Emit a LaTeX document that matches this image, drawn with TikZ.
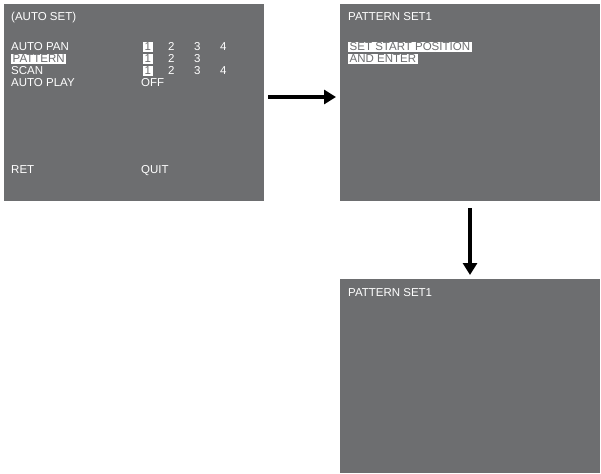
\documentclass[tikz,border=0pt]{standalone}
\usepackage{fontspec}
\setmainfont{Liberation Sans}
\usetikzlibrary{positioning,arrows.meta}
\definecolor{osdgray}{RGB}{109,110,112}
\tikzset{
  screen/.style={fill=osdgray,draw=none},
  osd/.style={anchor=base west,text=white,inner sep=0pt,font=\fontsize{11.5}{12}\selectfont},
  sel/.style={osd,fill=white,text=osdgray,inner xsep=1.5pt,inner ysep=1pt},
  bigarrow/.style={line width=4pt,-{Triangle[length=12pt,width=14pt]}}
}
\begin{document}
\begin{tikzpicture}[x=1pt,y=-1pt]
  \useasboundingbox (0,0) rectangle (601,473);
  % screens
  \fill[screen] (4,4) rectangle (264,201);
  \fill[screen] (340,4) rectangle (600,201);
  \fill[screen] (340,279) rectangle (600,473);
  % auto set menu
  \node[osd] (title) at (11,21) {(AUTO SET)};
  \node[osd] (pan) at (11,51) {AUTO PAN};
  \node[sel] (pat) at (11,63) {PATTERN};
  \node[osd] (scan) at (11,75) {SCAN};
  \node[osd] (play) at (11,87) {AUTO PLAY};
  \foreach \y in {51,63,75}
    \node[sel] at (143,\y) {1};
  \foreach \y/\i/\x in {51/2/168,51/3/194,51/4/220,63/2/168,63/3/194,75/2/168,75/3/194,75/4/220}
    \node[osd] at (\x,\y) {\i};
  \node[osd] (off) at (141,87) {OFF};
  \node[osd] (ret) at (11,173) {RET};
  \node[osd] (quit) at (141,173) {QUIT};
  % pattern set screens
  \node[osd] (ps1) at (348,21) {PATTERN SET1};
  \node[sel] (start) at (348,51) {SET START POSITION};
  \node[sel] (enter) at (348,63) {AND ENTER};
  \node[osd] (ps2) at (348,296) {PATTERN SET1};
  % arrows
  \coordinate (a1) at (268,97);
  \coordinate (a2) at (336,97);
  \coordinate (b1) at (470,208);
  \coordinate (b2) at (470,275);
  \draw[bigarrow] (a1) -- (a2);
  \draw[bigarrow] (b1) -- (b2);
\end{tikzpicture}
\end{document}
